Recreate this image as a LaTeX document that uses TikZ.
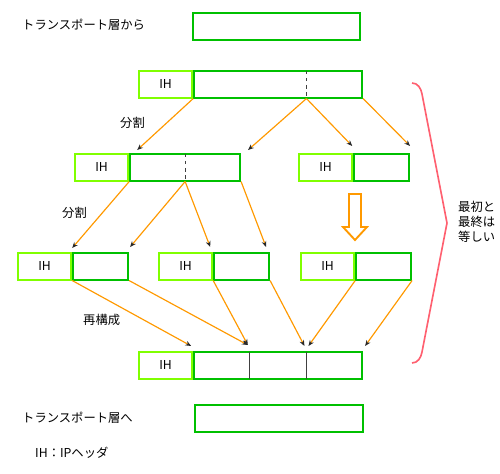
\documentclass[tikz,border=0pt]{standalone}
\usepackage{fontspec}
\setmainfont{Noto Sans CJK JP}
\usepackage{tikz}
\usetikzlibrary{arrows.meta, positioning, calc}
\definecolor{ihgreen}{RGB}{128, 255, 0}
\definecolor{datagreen}{RGB}{0, 192, 0}
\definecolor{floworange}{RGB}{255, 153, 0}
\definecolor{bracered}{RGB}{255, 96, 112}
\definecolor{tipgray}{RGB}{40, 40, 40}

\begin{document}
\begin{tikzpicture}[
    x=0.03cm, y=-0.03cm,
    font=\fontsize{10.5}{13}\selectfont,
    % Style definitions
    ihbox/.style={draw=ihgreen, line width=1.6pt, minimum width=1.6cm, minimum height=0.8cm, inner sep=0pt, anchor=north west, text=black},
    databox/.style={draw=datagreen, line width=1.6pt, minimum height=0.8cm, inner sep=0pt},
    flow/.style={-{Stealth[length=5pt, width=4pt, color=tipgray]}, line width=1pt, floworange},
    cutline/.style={draw=black!75, line width=0.6pt, shorten <=0.8pt, shorten >=0.8pt},
    note/.style={anchor=west, inner sep=0pt, text=black}
]
    \useasboundingbox (0,0) rectangle (500,474);

    % === From the transport layer ===
    \node (from_lbl) [note] at (22,25) {トランスポート層から};
    \node (from_box) [databox, minimum width=5.0cm, anchor=north west] at (192,12) {};

    % === Row 1: original datagram ===
    \node (ih1) [ihbox] at (138,70) {IH};
    \node (data1) [databox, minimum width=5.04cm, right=0pt of ih1] {};
    \coordinate (cut1t) at ($(data1.north west)!2/3!(data1.north east)$);
    \coordinate (cut1b) at ($(data1.south west)!2/3!(data1.south east)$);
    \draw [cutline, dashed] (cut1t) -- (cut1b);

    \node (split_lbl1) [note] at (120,123) {分割};

    % === Row 2: first split ===
    \node (ih2a) [ihbox] at (74,153) {IH};
    \node (data2a) [databox, minimum width=3.3cm, right=0pt of ih2a] {};
    \coordinate (cut2t) at ($(data2a.north west)!1/2!(data2a.north east)$);
    \coordinate (cut2b) at ($(data2a.south west)!1/2!(data2a.south east)$);
    \draw [cutline, dashed] (cut2t) -- (cut2b);

    \node (ih2b) [ihbox] at (298,153) {IH};
    \node (data2b) [databox, minimum width=1.65cm, right=0pt of ih2b] {};

    \draw [flow] (ih1.south east) -- ($(data2a.north west)+(8,-3)$);
    \draw [flow] (cut1b) -- ($(data2a.north east)+(7,-3)$);
    \draw [flow] (cut1b) -- ($(ih2b.north east)+(-1,-7)$);
    \draw [flow] (data1.south east) -- ($(data2b.north east)+(0,-7)$);

    \node (split_lbl2) [note] at (62,213) {分割};

    % hollow arrow (no change)
    \draw [floworange, line width=1.6pt] (349,194) -- (361,194) -- (361,227) -- (367,227) -- (355,240) -- (343,227) -- (349,227) -- cycle;

    % === Row 3: fragments ===
    \node (ih3a) [ihbox] at (17,252) {IH};
    \node (data3a) [databox, minimum width=1.65cm, right=0pt of ih3a] {};
    \node (ih3b) [ihbox] at (158,252) {IH};
    \node (data3b) [databox, minimum width=1.65cm, right=0pt of ih3b] {};
    \node (ih3c) [ihbox] at (300,252) {IH};
    \node (data3c) [databox, minimum width=1.65cm, right=0pt of ih3c] {};

    \draw [flow] (ih2a.south east) -- ($(data3a.north west)+(0,-4)$);
    \draw [flow] (cut2b) -- ($(data3a.north east)+(1,-5)$);
    \draw [flow] (cut2b) -- ($(ih3b.north east)+(-3,-5)$);
    \draw [flow] (data2a.south east) -- ($(data3b.north east)+(-4,-5)$);

    \node (rebuild_lbl) [note] at (83,320) {再構成};

    % === Row 4: reassembled datagram ===
    \node (ih4) [ihbox] at (138,351) {IH};
    \node (data4) [databox, minimum width=5.04cm, right=0pt of ih4] {};
    \coordinate (div1t) at ($(data4.north west)!1/3!(data4.north east)$);
    \coordinate (div1b) at ($(data4.south west)!1/3!(data4.south east)$);
    \coordinate (div2t) at ($(data4.north west)!2/3!(data4.north east)$);
    \coordinate (div2b) at ($(data4.south west)!2/3!(data4.south east)$);
    \draw [cutline] (div1t) -- (div1b);
    \draw [cutline] (div2t) -- (div2b);

    \draw [flow] (ih3a.south east) -- ($(ih4.north east)+(-2,-5)$);
    \draw [flow] (data3a.south east) -- ($(div1t)+(-2,-6)$);
    \draw [flow] (ih3b.south east) -- ($(div1t)+(-2,-6)$);
    \draw [flow] (data3b.south east) -- ($(div2t)+(-2,-5)$);
    \draw [flow] (ih3c.south east) -- ($(div2t)+(2,-5)$);
    \draw [flow] (data3c.south east) -- ($(data4.north east)+(2,-5)$);

    % === Brace: first and last are equal ===
    \draw [bracered, line width=1.4pt] (412,83) to[out=0, in=100] (422,94) -- (447,223) -- (422,352) to[out=-100, in=0] (412,363);
    \node (same_lbl) [note, align=left] at (458,222) {最初と\\最終は\\等しい};

    % === To the transport layer ===
    \node (to_lbl) [note] at (22,418) {トランスポート層へ};
    \node (to_box) [databox, minimum width=5.04cm, anchor=north west] at (194,404) {};
    \node (key_lbl) [note] at (35,453) {IH：IPヘッダ};

\end{tikzpicture}
\end{document}
